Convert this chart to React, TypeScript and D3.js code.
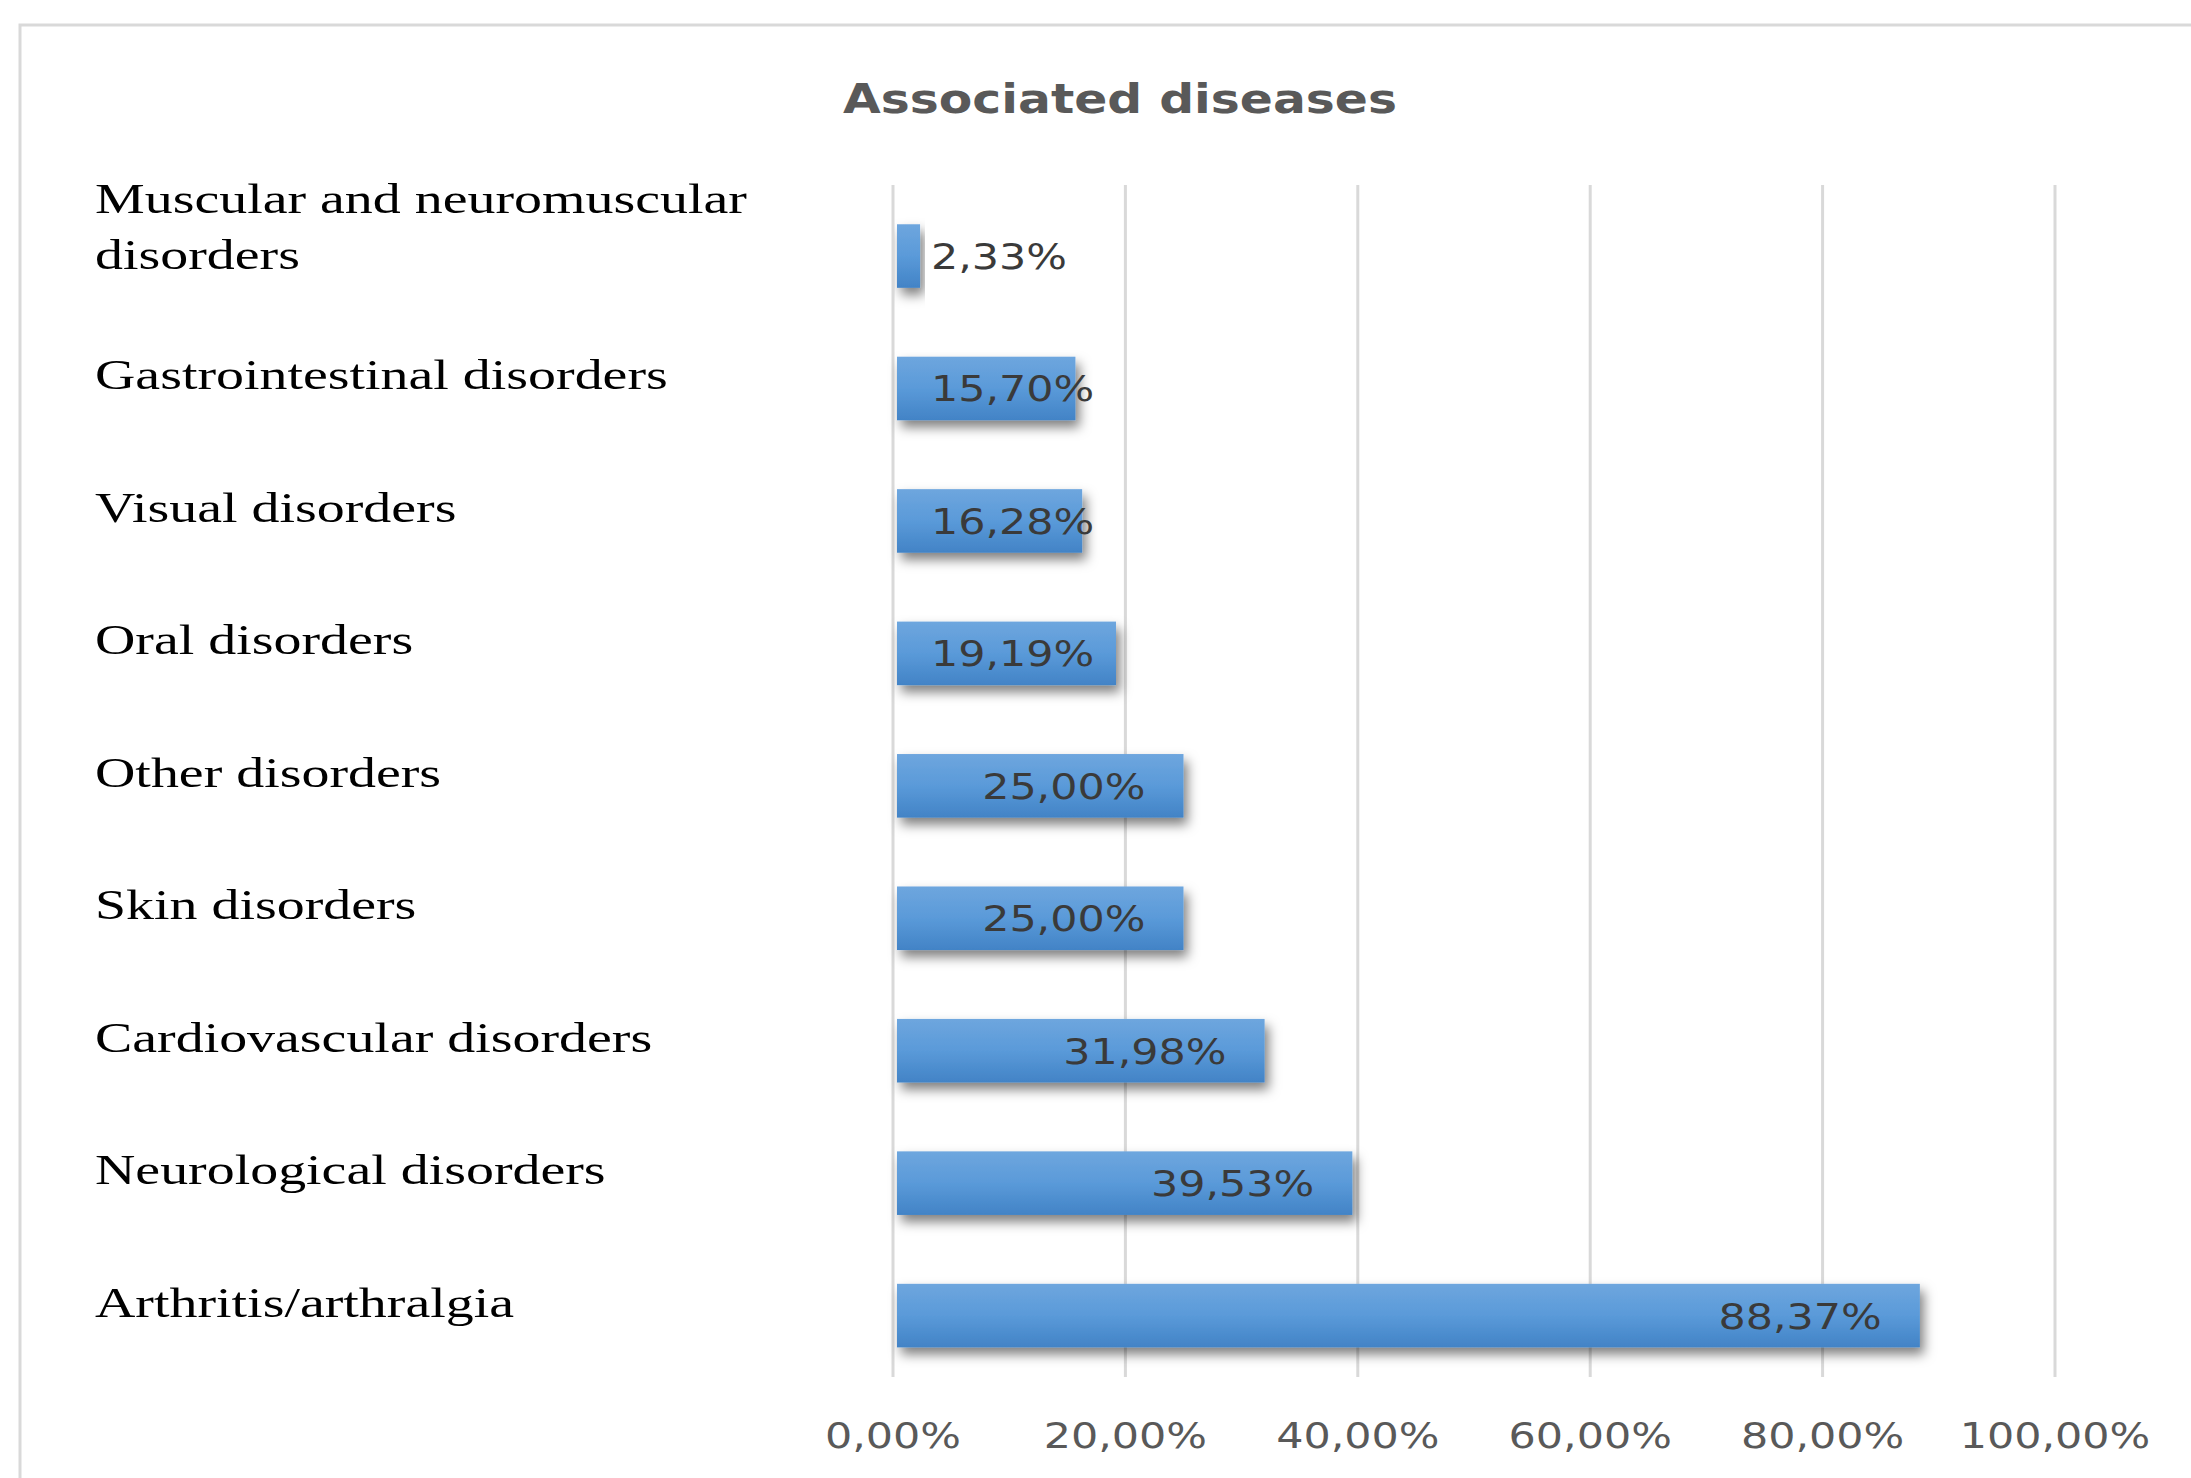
import React, { useEffect, useRef } from 'react';
import * as d3 from 'd3';

const categories = [
  'Muscular and neuromuscular disorders',
  'Gastrointestinal disorders',
  'Visual disorders',
  'Oral disorders',
  'Other disorders',
  'Skin disorders',
  'Cardiovascular disorders',
  'Neurological disorders',
  'Arthritis/arthralgia',
];
const values = [2.33, 15.7, 16.28, 19.19, 25.0, 25.0, 31.98, 39.53, 88.37];
const tickValues = [0, 20, 40, 60, 80, 100];
const title = 'Associated diseases';

const W = 2191;
const H = 1478;

const App = () => {
  const svgRef = useRef<SVGSVGElement | null>(null);

  useEffect(() => {
    if (!svgRef.current) return;
    const root = d3.select(svgRef.current);
    root.selectAll('*').remove();

    const sans = '"DejaVu Sans", Verdana, sans-serif';
    const serif = '"Liberation Serif", "Times New Roman", serif';
    const sx = 1.19; // the picture's sans text is stretched sideways
    const serifSx = 1.3;

    // comma decimal like the original
    const locale = d3.formatLocale({ decimal: ',', thousands: '.', grouping: [3], currency: ['', ''] });
    const fmt = (v: number) => locale.format('.2f')(v) + '%';

    const x = d3.scaleLinear().domain([0, 100]).range([893, 2055]);
    const y = d3.scaleBand()
      .domain(categories)
      .range([185, 1377])
      .paddingInner(0.52)
      .paddingOuter(0.26)
      .align(0.57);

    // background + frame
    root.append('rect').attr('width', W).attr('height', H).attr('fill', '#fff');
    root.append('path')
      .attr('d', `M20,${H} L20,25 L${W},25`)
      .attr('fill', 'none')
      .attr('stroke', '#d9d9d9')
      .attr('stroke-width', 3);

    const defs = root.append('defs');
    const grad = defs.append('linearGradient')
      .attr('id', 'barGrad')
      .attr('x1', '0').attr('y1', '0').attr('x2', '0').attr('y2', '1');
    grad.append('stop').attr('offset', '0%').attr('stop-color', '#6ea6de');
    grad.append('stop').attr('offset', '50%').attr('stop-color', '#5a9ad9');
    grad.append('stop').attr('offset', '100%').attr('stop-color', '#4283c6');

    const shadow = defs.append('filter')
      .attr('id', 'barShadow')
      .attr('x', '-10%').attr('y', '-30%').attr('width', '130%').attr('height', '180%');
    shadow.append('feDropShadow')
      .attr('dx', 4).attr('dy', 7)
      .attr('stdDeviation', 6)
      .attr('flood-color', '#000')
      .attr('flood-opacity', 0.5);

    // title
    root.append('text')
      .attr('transform', `translate(1120,113) scale(${sx},1)`)
      .attr('text-anchor', 'middle')
      .style('font-family', sans)
      .style('font-weight', 'bold')
      .style('font-size', '41px')
      .style('fill', '#595959')
      .text(title);

    // vertical gridlines
    const [top, bottom] = y.range();
    root.append('g')
      .selectAll('line')
      .data(tickValues)
      .join('line')
      .attr('x1', d => x(d)).attr('x2', d => x(d))
      .attr('y1', top).attr('y2', bottom)
      .attr('stroke', '#d9d9d9')
      .attr('stroke-width', 3);

    // tick labels
    root.append('g')
      .selectAll('text')
      .data(tickValues)
      .join('text')
      .attr('transform', d => `translate(${x(d)},1448) scale(${sx},1)`)
      .attr('text-anchor', 'middle')
      .style('font-family', sans)
      .style('font-size', '36px')
      .style('fill', '#595959')
      .text(d => fmt(d));

    // bars
    const rows = categories.map((c, i) => ({ c, v: values[i] }));
    root.append('g')
      .selectAll('rect')
      .data(rows)
      .join('rect')
      .attr('x', x(0) + 4)
      .attr('y', d => y(d.c)!)
      .attr('width', d => x(d.v) - x(0) - 4)
      .attr('height', y.bandwidth())
      .attr('fill', 'url(#barGrad)')
      .attr('filter', 'url(#barShadow)');

    // data labels: inside end, but never starting left of a fixed inset
    const labels = root.append('g')
      .selectAll('text')
      .data(rows)
      .join('text')
      .attr('text-anchor', 'start')
      .style('font-family', sans)
      .style('font-size', '36px')
      .style('fill', '#3a3a3a')
      .text(d => fmt(d.v));
    labels.each(function (d) {
      const el = this as SVGTextElement;
      const w = el.getComputedTextLength() * sx;
      const start = Math.max(x(0) + 38, x(d.v) - 38 - w);
      const cy = y(d.c)! + y.bandwidth() / 2 + 13;
      d3.select(el).attr('transform', `translate(${start},${cy}) scale(${sx},1)`);
    });

    // category labels, wrapped to two lines when too long
    const maxW = 700;
    const catG = root.append('g');
    categories.forEach(c => {
      const probe = catG.append('text')
        .style('font-family', serif)
        .style('font-size', '43px')
        .text(c);
      const words = c.split(' ');
      const lines: string[] = [];
      let cur = '';
      words.forEach(wd => {
        const test = cur ? cur + ' ' + wd : wd;
        probe.text(test);
        if ((probe.node() as SVGTextElement).getComputedTextLength() * serifSx > maxW && cur) {
          lines.push(cur);
          cur = wd;
        } else {
          cur = test;
        }
      });
      lines.push(cur);
      probe.remove();

      const lh = 56;
      // wrapped labels sit a little higher than the bar centre
      const base = y(c)! + y.bandwidth() / 2 + 1 - (lines.length - 1) * 16;
      lines.forEach((ln, k) => {
        const ly = base + (k - (lines.length - 1) / 2) * lh;
        catG.append('text')
          .attr('transform', `translate(95,${ly}) scale(${serifSx},1)`)
          .style('font-family', serif)
          .style('font-size', '43px')
          .style('fill', '#000')
          .text(ln);
      });
    });
  }, []);

  return (
    <div style={{ position: 'absolute', left: 0, top: 0, background: '#fff' }}>
      <svg ref={svgRef} width={W} height={H} style={{ display: 'block' }} />
    </div>
  );
};

export default App;
